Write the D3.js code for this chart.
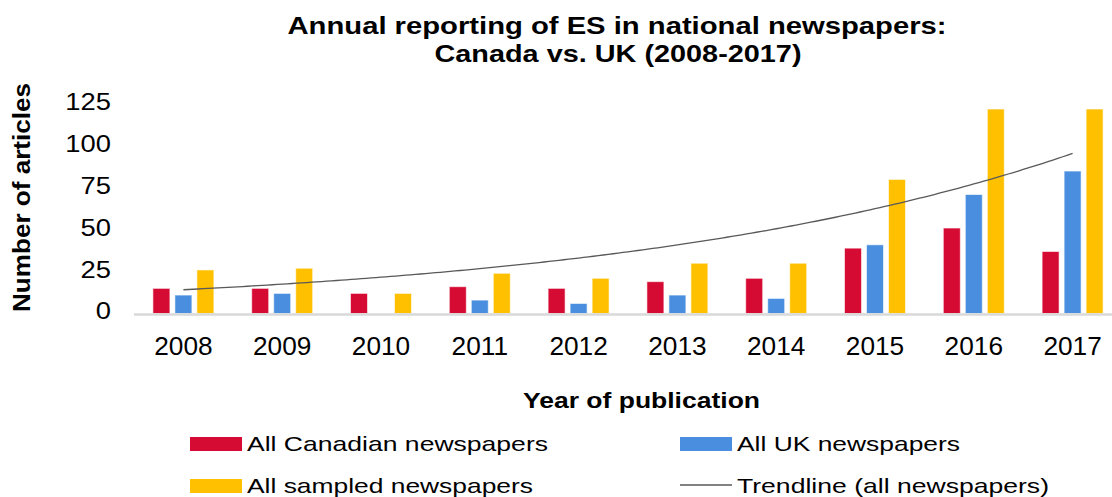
<!DOCTYPE html>
<html>
<head>
<meta charset="utf-8">
<script src="https://cdn.jsdelivr.net/npm/d3@7"></script>
<style>
  html, body { margin: 0; padding: 0; background: #fff; }
  svg { display: block; font-family: "Liberation Sans", Arial, sans-serif; }
</style>
</head>
<body>
<svg id="chart" width="1112" height="497"></svg>
<script>
const years = ["2008","2009","2010","2011","2012","2013","2014","2015","2016","2017"];
const canadian = [15, 15, 12, 16, 15, 19, 21, 39, 51, 37];
const uk       = [11, 12, 0, 8, 6, 11, 9, 41, 71, 85];
const sampled  = [26, 27, 12, 24, 21, 30, 30, 80, 122, 122];
const yTicks   = [0, 25, 50, 75, 100, 125];
const seriesNames = ["All Canadian newspapers", "All UK newspapers", "All sampled newspapers"];
const trendName = "Trendline (all newspapers)";
const colors = ["#D60B34", "#4A8FDF", "#FFC000"];

const svg = d3.select("#chart");

// stretch text horizontally (reference glyphs are wider than the installed metric-compatible font)
function stretch(sel, factor) {
  sel.each(function() {
    const w = this.getComputedTextLength();
    d3.select(this).attr("textLength", w * factor).attr("lengthAdjust", "spacingAndGlyphs");
  });
}
function fit(sel, width) {
  sel.attr("textLength", width).attr("lengthAdjust", "spacingAndGlyphs");
}

const x0 = d3.scaleBand().domain(years).range([134, 1122]).padding(0);
const keys = ["can", "uk", "all"];
const x1 = d3.scaleBand().domain(keys).range([-33, 33]).paddingInner(5/22).paddingOuter(5/44);
const y = d3.scaleLinear().domain([0, 125]).range([313.5, 104]);

const rows = years.map((yr, i) => ({year: yr, values: [canadian[i], uk[i], sampled[i]]}));

// bars
const groups = svg.append("g").selectAll("g").data(rows).join("g")
  .attr("transform", d => `translate(${x0(d.year) + x0.bandwidth()/2},0)`);
groups.selectAll("rect").data(d => d.values.map((v, k) => ({k, v}))).join("rect")
  .attr("x", d => x1(keys[d.k]))
  .attr("width", x1.bandwidth())
  .attr("y", d => y(d.v))
  .attr("height", d => y(0) - y(d.v))
  .attr("fill", d => colors[d.k])
  .attr("stroke", "#ffffff")
  .attr("stroke-opacity", 0.6)
  .attr("stroke-width", 1)
  .attr("display", d => d.v > 0 ? null : "none");

// x axis line
svg.append("line")
  .attr("x1", 134).attr("x2", 1112)
  .attr("y1", y(0) + 1).attr("y2", y(0) + 1)
  .attr("stroke", "#D9D9D9").attr("stroke-width", 2.5);

// y axis labels
const yAxis = d3.axisLeft(y).tickValues(yTicks).tickSize(0).tickPadding(0);
const yg = svg.append("g").attr("transform", "translate(111,0)").call(yAxis);
yg.select(".domain").remove();
yg.selectAll("text").attr("font-size", 24).attr("fill", "#000")
  .attr("font-family", "Liberation Sans, Arial, sans-serif")
  .attr("dy", "0.35em").attr("y", -3);
stretch(yg.selectAll("text"), 1.14);

// x axis labels
const xAxis = d3.axisBottom(x0).tickSize(0).tickPadding(0);
const xg = svg.append("g").attr("transform", "translate(0,355)").call(xAxis);
xg.select(".domain").remove();
xg.selectAll("text").attr("font-size", 25).attr("fill", "#000")
  .attr("font-family", "Liberation Sans, Arial, sans-serif")
  .attr("dy", 0).attr("y", 0);
stretch(xg.selectAll("text"), 1.05);

// trendline: exponential least-squares fit of all sampled newspapers
const n = sampled.length;
const xs = d3.range(n);
const ls = sampled.map(v => Math.log(v));
const mx = d3.mean(xs), ml = d3.mean(ls);
const b = d3.sum(xs, (xi, i) => (xi - mx) * (ls[i] - ml)) / d3.sum(xs, xi => (xi - mx) ** 2);
const a = ml - b * mx;
const xt = d3.scaleLinear().domain([0, n - 1])
  .range([x0(years[0]) + x0.bandwidth()/2, x0(years[n-1]) + x0.bandwidth()/2]);
const trendPts = d3.range(0, n - 1 + 1e-9, 0.05).map(t => [xt(t), y(Math.exp(a + b * t))]);
svg.append("path")
  .attr("d", d3.line()(trendPts))
  .attr("fill", "none").attr("stroke", "#595959").attr("stroke-width", 1.3);

// titles
const t1 = svg.append("text").attr("x", 617).attr("y", 34).attr("text-anchor", "middle")
  .attr("font-weight", "bold").attr("font-size", 24.5).attr("fill", "#000")
  .text("Annual reporting of ES in national newspapers:");
fit(t1, 659);
const t2 = svg.append("text").attr("x", 618).attr("y", 61.5).attr("text-anchor", "middle")
  .attr("font-weight", "bold").attr("font-size", 24.5).attr("fill", "#000")
  .text("Canada vs. UK (2008-2017)");
fit(t2, 367);

const xt1 = svg.append("text").attr("x", 641.5).attr("y", 408).attr("text-anchor", "middle")
  .attr("font-weight", "bold").attr("font-size", 22).text("Year of publication");
fit(xt1, 237);

const yt1 = svg.append("text").attr("transform", "translate(30,197.5) rotate(-90)").attr("text-anchor", "middle")
  .attr("font-weight", "bold").attr("font-size", 23.5).text("Number of articles");
fit(yt1, 229);

// legend
const legend = [
  {name: seriesNames[0], type: "rect", color: colors[0], x: 190, y: 444, w: 301},
  {name: seriesNames[1], type: "rect", color: colors[1], x: 680, y: 444, w: 223},
  {name: seriesNames[2], type: "rect", color: colors[2], x: 190, y: 486, w: 286},
  {name: trendName, type: "line", color: "#595959", x: 680, y: 486, w: 312}
];
const lg = svg.append("g").selectAll("g").data(legend).join("g")
  .attr("transform", d => `translate(${d.x},${d.y})`);
lg.filter(d => d.type === "rect").append("rect")
  .attr("x", 0).attr("y", -7).attr("width", 52).attr("height", 14).attr("fill", d => d.color);
lg.filter(d => d.type === "line").append("line")
  .attr("x1", 0).attr("x2", 52).attr("y1", -1).attr("y2", -1)
  .attr("stroke", d => d.color).attr("stroke-width", 1.3);
lg.append("text").attr("x", 57).attr("y", 7).attr("font-size", 21).attr("fill", "#000")
  .text(d => d.name)
  .attr("textLength", d => d.w).attr("lengthAdjust", "spacingAndGlyphs");
</script>
</body>
</html>
